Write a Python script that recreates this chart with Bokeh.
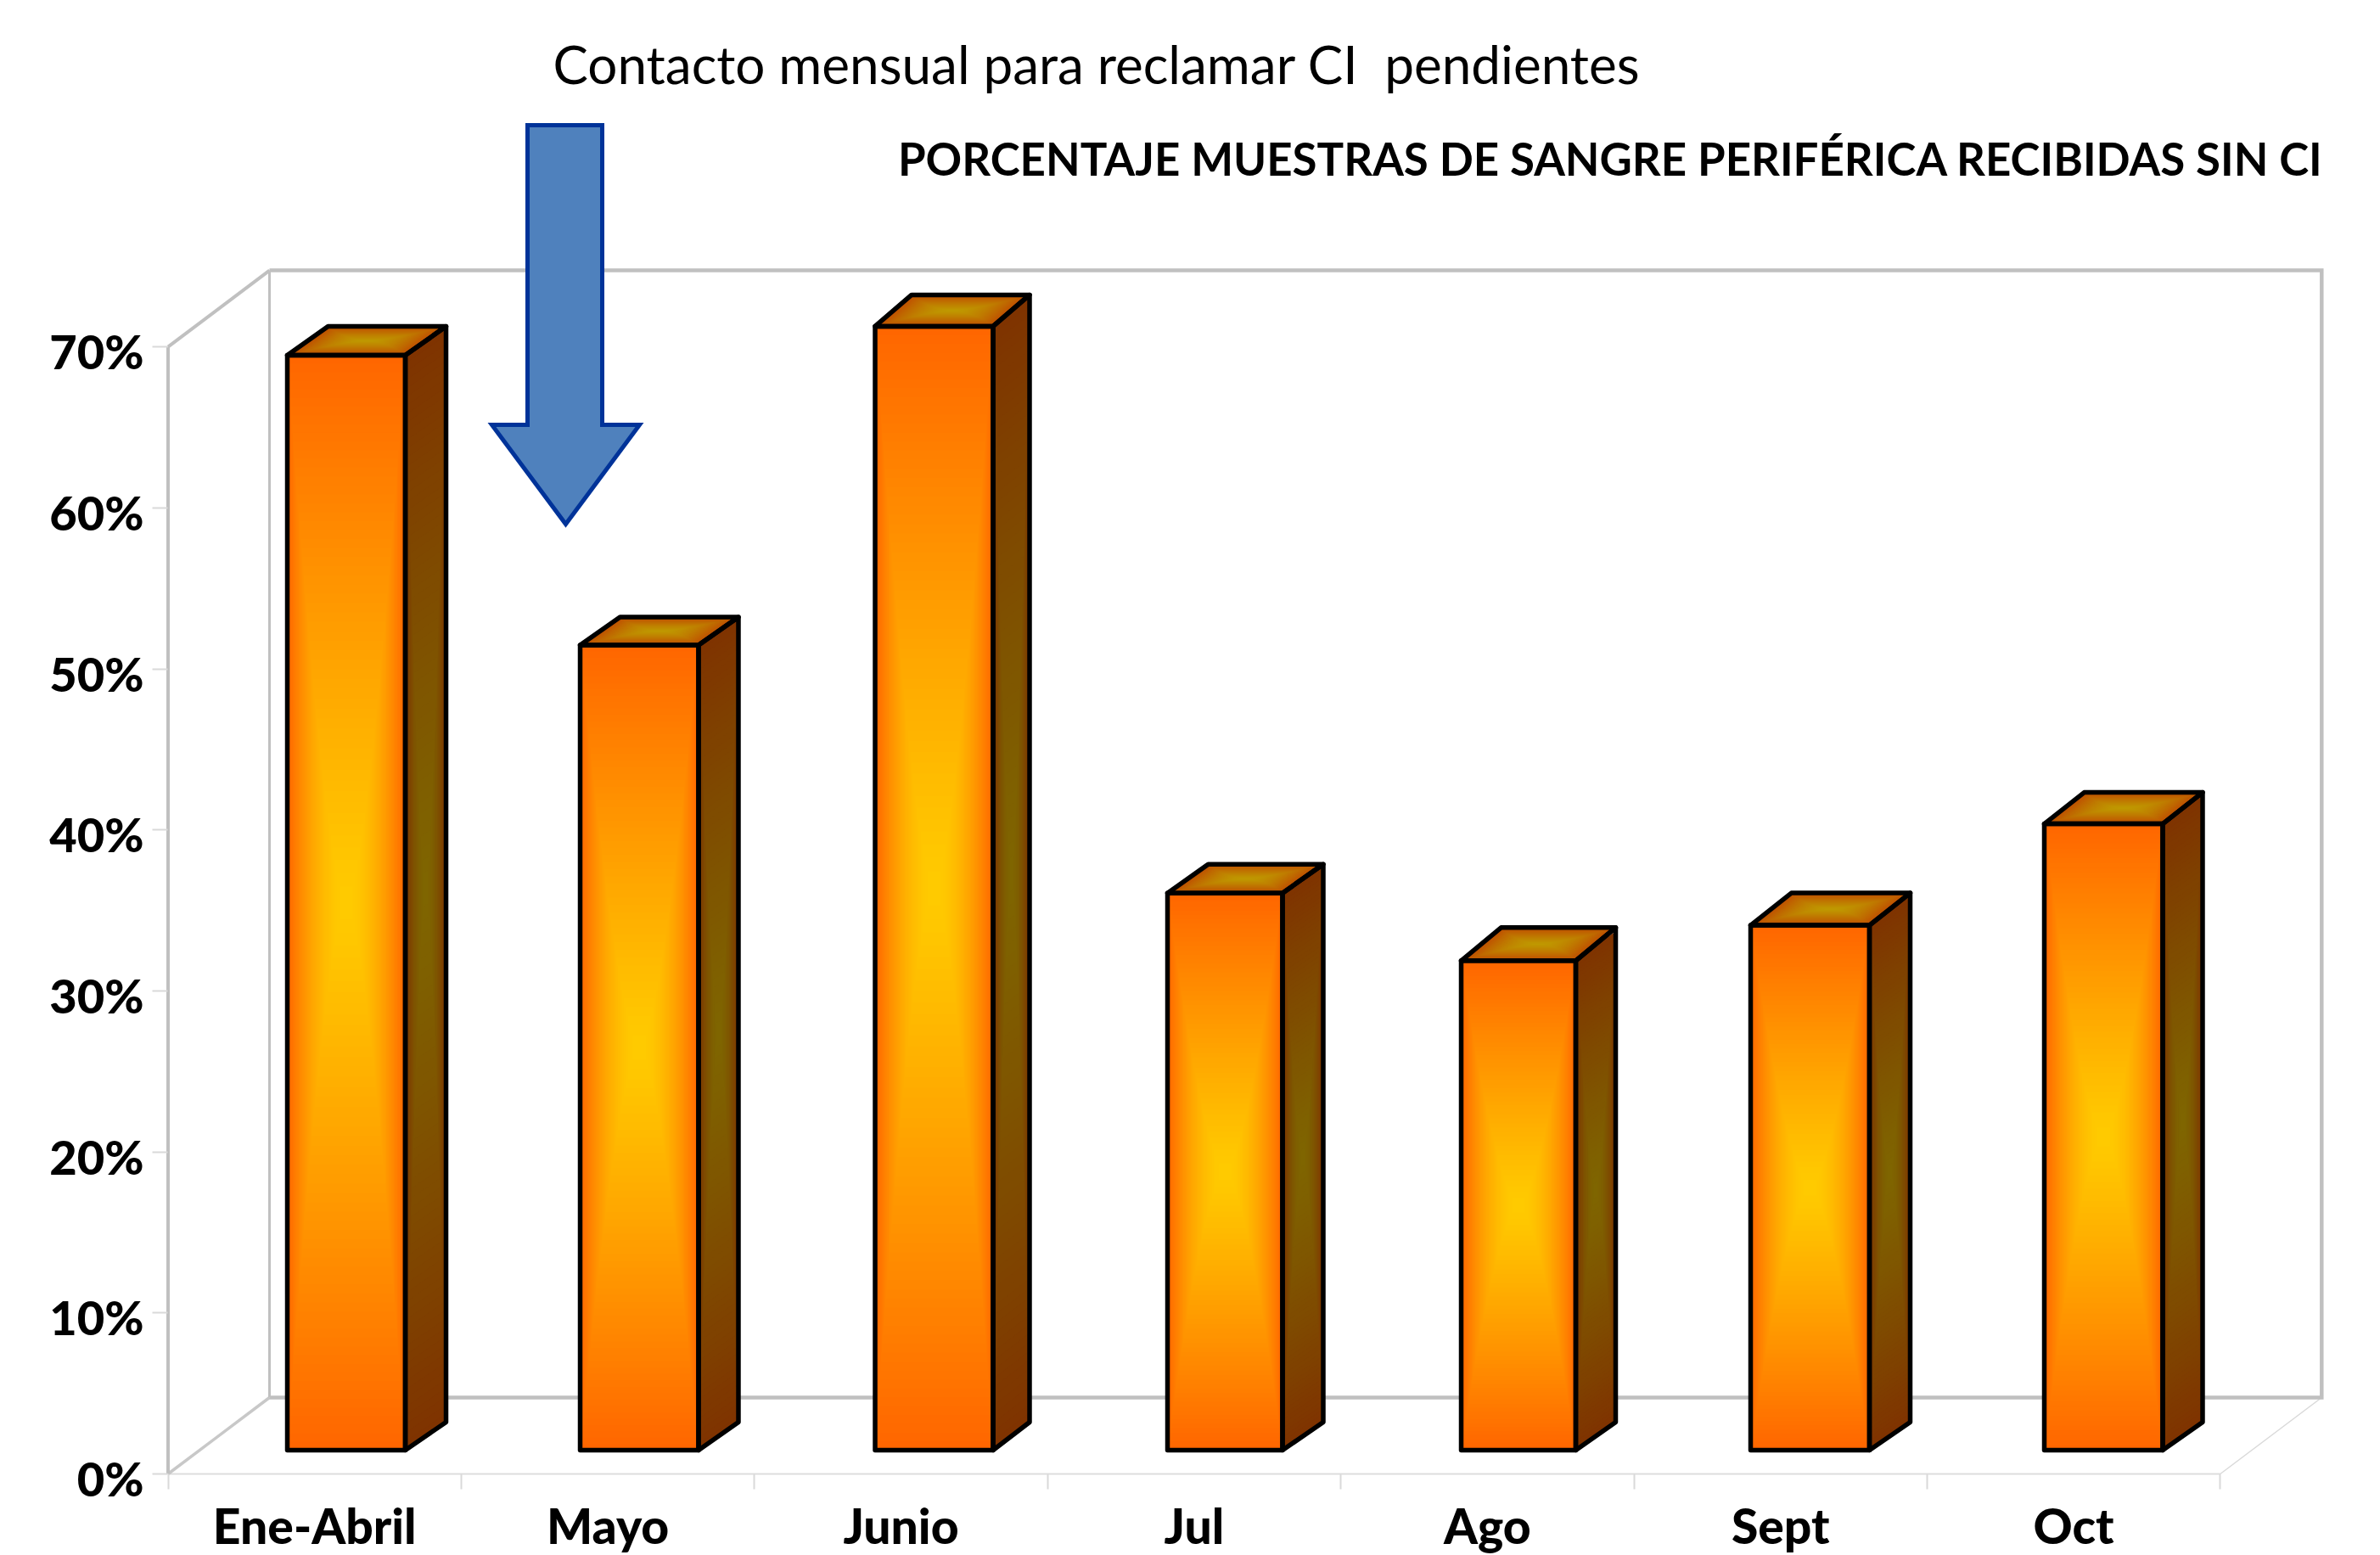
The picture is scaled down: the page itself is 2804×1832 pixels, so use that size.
from bokeh.plotting import figure
from bokeh.models import Range1d, LinearAxis, FixedTicker, CustomJSTickFormatter
from bokeh.core.properties import value
from bokeh.embed import file_html
from bokeh.resources import INLINE

# ---------- data ----------
categories = ["Ene-Abril", "Mayo", "Junio", "Jul", "Ago", "Sept", "Oct"]
percent = [68.0, 50.0, 69.8, 34.6, 30.4, 32.6, 38.9]
y_tick_values = [0, 10, 20, 30, 40, 50, 60, 70]
y_tick_labels = ["0%", "10%", "20%", "30%", "40%", "50%", "60%", "70%"]
title_text = "PORCENTAJE MUESTRAS DE SANGRE PERIFÉRICA RECIBIDAS SIN CI"
note_text = "Contacto mensual para reclamar CI \u00a0pendientes"

# ---------- page geometry (window pixels) ----------
X0, CAT_W = 197.5, 345.4      # x of category 0, pixels per category
Y0, UNIT = 1736.0, 18.97      # y of 0 %, pixels per 1 %
def X(px): return (px - X0) / CAT_W
def Y(py): return (Y0 - py) / UNIT

F_L, F_R, F_T, F_B = 179, 2780, 8, 1754
WALL_DX, WALL_DY = 119.5 / CAT_W, 90 / UNIT
BAR_LEFT_PX = [338, 683, 1030.5, 1375, 1721, 2062, 2408]
BAR_W_PX = [139, 139.5, 139, 135.5, 135, 140, 139.5]
SIDE_DEPTH_PX = [48, 47, 43, 48, 47, 48, 47]
TOP_DEPTH_PX = [34, 33, 37, 34, 39, 38, 37]
BAR_BASE = 28 / UNIT
DEPTH_Y = 33 / UNIT
LABEL_SHIFT = 5 / UNIT
N_LEVELS = 56
RAMP_U, RAMP_V = 1.8, 1.15

FRONT = ((255, 102, 0), (255, 204, 0))
SIDE = ((127, 51, 0), (127, 102, 0))
TOP = ((191, 76, 0), (191, 153, 0))

LABEL_FONT = "Lato Black"

p = figure(frame_width=F_R - F_L, frame_height=F_B - F_T, output_backend="svg", toolbar_location=None,
           x_range=Range1d(X(F_L), X(F_R)), y_range=Range1d(Y(F_B), Y(F_T)),
           x_axis_type=None, y_axis_type=None,
           min_border_left=F_L, min_border_right=16, min_border_top=F_T, min_border_bottom=76)
p.outline_line_color = None
p.grid.visible = False
p.background_fill_color = "white"
p.border_fill_color = "white"

# ---------- axes ----------
yaxis = LinearAxis(ticker=FixedTicker(ticks=[v - LABEL_SHIFT for v in y_tick_values], minor_ticks=y_tick_values),
                   formatter=CustomJSTickFormatter(args=dict(labels=y_tick_labels), code="return labels[index]"))
yaxis.axis_line_color = None
yaxis.major_tick_line_color = None
yaxis.major_tick_in = yaxis.major_tick_out = 0
yaxis.minor_tick_line_color = "#D9D9D9"
yaxis.minor_tick_line_width = 2
yaxis.minor_tick_in, yaxis.minor_tick_out = 18, 0
yaxis.major_label_standoff = 10
yaxis.major_label_text_font = LABEL_FONT
yaxis.major_label_text_font_style = "normal"
yaxis.major_label_text_font_size = "56px"
yaxis.major_label_text_color = "black"
p.add_layout(yaxis, "left")

xaxis = LinearAxis(ticker=FixedTicker(ticks=[i + 0.5 for i in range(len(categories))],
                                      minor_ticks=list(range(len(categories) + 1))),
                   formatter=CustomJSTickFormatter(args=dict(labels=categories), code="return labels[index]"))
xaxis.axis_line_color = None
xaxis.major_tick_line_color = None
xaxis.major_tick_in = xaxis.major_tick_out = 0
xaxis.minor_tick_line_color = "#D9D9D9"
xaxis.minor_tick_line_width = 2
xaxis.minor_tick_in, xaxis.minor_tick_out = 18, 0
xaxis.major_label_standoff = 8
xaxis.major_label_text_font = LABEL_FONT
xaxis.major_label_text_font_style = "normal"
xaxis.major_label_text_font_size = "57px"
xaxis.major_label_text_color = "black"
p.add_layout(xaxis, "below")

# ---------- 3-D walls ----------
n = len(categories)
ytop = y_tick_values[-1]
p.line([0, n], [0, 0], line_color="#DDDDDD", line_width=2)
p.line([n, n + WALL_DX], [0, WALL_DY], line_color="#D9D9D9", line_width=1.5)
p.line([0, WALL_DX], [0, WALL_DY], line_color="#C8C8C8", line_width=3.5)
p.line([0, 0], [0, ytop], line_color="#C0C0C0", line_width=4)
p.line([0, WALL_DX], [ytop, ytop + WALL_DY], line_color="#C0C0C0", line_width=4)
p.line([WALL_DX, WALL_DX], [WALL_DY, ytop + WALL_DY], line_color="#C0C0C0", line_width=3)
p.line([WALL_DX, n + WALL_DX, n + WALL_DX, WALL_DX], [ytop + WALL_DY, ytop + WALL_DY, WALL_DY, WALL_DY],
       line_color="#C0C0C0", line_width=4.5, line_join="miter")

# ---------- bars ----------
def mix(edge, centre, s):
    return "#%02x%02x%02x" % tuple(round(c + (e - c) * s) for e, c in zip(edge, centre))

gxs, gys, gcs = [], [], []
oxs, oys = [], []
def face(corners, colours):
    """Rectangular-path gradient: nested copies of the face, shrinking towards its centre."""
    cx = sum(c[0] for c in corners) / 4
    cy = sum(c[1] for c in corners) / 4
    ux, uy = (corners[1][0] - corners[0][0]) / 2, (corners[1][1] - corners[0][1]) / 2
    vx, vy = (corners[3][0] - corners[0][0]) / 2, (corners[3][1] - corners[0][1]) / 2
    for k in range(N_LEVELS):
        s = 1 - k / N_LEVELS
        su, sv = s ** (1 / RAMP_U), s ** (1 / RAMP_V)
        xs, ys = [], []
        for a, b in ((-1, -1), (1, -1), (1, 1), (-1, 1)):
            xs.append(cx + a * su * ux + b * sv * vx)
            ys.append(cy + a * su * uy + b * sv * vy)
        gxs.append(xs)
        gys.append(ys)
        gcs.append(mix(colours[0], colours[1], s))
    oxs.append([c[0] for c in corners])
    oys.append([c[1] for c in corners])

for i, v in enumerate(percent):
    l, r = X(BAR_LEFT_PX[i]), X(BAR_LEFT_PX[i] + BAR_W_PX[i])
    b, t = BAR_BASE, BAR_BASE + v
    dx, dy, dyt = SIDE_DEPTH_PX[i] / CAT_W, DEPTH_Y, TOP_DEPTH_PX[i] / UNIT
    face([(l, b), (r, b), (r, t), (l, t)], FRONT)
    face([(r, b), (r + dx, b + dy), (r + dx, t + dyt), (r, t)], SIDE)
    face([(l, t), (r, t), (r + dx, t + dyt), (l + dx, t + dyt)], TOP)

p.patches(gxs, gys, fill_color=gcs, line_color=None)
p.patches(oxs, oys, fill_color=None, line_color="black", line_width=5.5, line_join="round")

# ---------- arrow ----------
ax_l, ax_r, ax_wl, ax_wr, ax_c = X(621), X(709), X(579), X(753), X(666)
ay_t, ay_s, ay_tip = Y(147), Y(500), Y(617)
p.patch([ax_l, ax_r, ax_r, ax_wr, ax_c, ax_wl, ax_l], [ay_t, ay_t, ay_s, ay_s, ay_tip, ay_s, ay_s],
        fill_color="#4F81BD", line_color="#003399", line_width=5, line_join="miter")

# ---------- texts ----------
p.text([X(651)], [Y(74)], text=[note_text], text_font=value("Lato"), text_font_size="62px",
       text_color="black", text_align="left", text_baseline="middle")
p.text([X(2737)], [Y(185.5)], text=[title_text], text_font=value("Lato"), text_font_style="bold",
       text_font_size="52.8px", text_color="black", text_align="right", text_baseline="middle")

open("out.html", "w").write(file_html(p, INLINE))
